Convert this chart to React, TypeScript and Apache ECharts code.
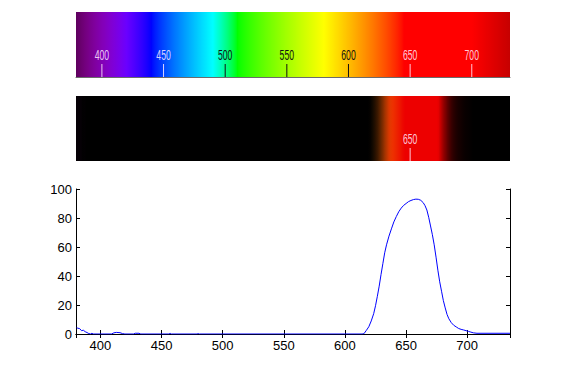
import React, { useEffect, useRef } from "react";
import * as echarts from "echarts";

// Emission spectrum (wavelength in nm, relative intensity %)
const wavelengths = [
  380.5, 381.5, 383, 384.5, 386, 387.5, 389, 390.5, 392, 393, 394, 409, 411, 413, 416, 418, 420,
  427, 428.5, 431.5, 433, 456, 457, 458, 479, 480, 481, 614, 615.5, 617.5, 619.5, 621.5, 623.5,
  625, 626.5, 628, 629.5, 631, 632.5, 634, 636, 638, 640, 642, 644, 646, 648, 650, 652, 654, 656,
  658, 660, 662, 664, 665.5, 667, 668.5, 670, 671.5, 673, 674.5, 676, 677.5, 679, 680.5, 682,
  683.5, 685, 687, 689, 691, 693, 695, 697, 699, 701, 703, 705, 708, 735,
];
const intensities = [
  4.3, 4.0, 3.7, 2.3, 2.6, 1.6, 1.0, 0.3, 0, 0.5, 0, 0, 0.8, 1.1, 0.9, 0.3, 0,
  0, 0.5, 0.5, 0, 0, 0.4, 0, 0, 0.3, 0, 0, 0.2, 2.5, 5, 9, 14,
  19.5, 26, 33, 41, 48.5, 56, 61.5, 67.5, 72.5, 77.3, 81, 84.3, 86.8, 88.7, 90, 91.3, 92.1, 92.7,
  93, 92.9, 92.2, 90.6, 88.5, 85.5, 80.5, 74.5, 68.5, 61.5, 53, 44, 36, 29.5, 23, 18,
  13.5, 10.5, 7.8, 6, 4.9, 3.8, 3.2, 2.8, 2.3, 1.8, 1.3, 0.8, 0.5, 0.5,
];
const spectrumTicks = [400, 450, 500, 550, 600, 650, 700];
const glowTicks = [650];

const BAND_MIN = 379;
const BAND_MAX = 731;
const PLOT_MIN = 380;
const PLOT_MAX = 735;

function spectral(w: number): [number, number, number] {
  let r = 0, g = 0, b = 0;
  if (w < 440) { r = (440 - w) / 60; b = 1; }
  else if (w < 490) { g = (w - 440) / 50; b = 1; }
  else if (w < 510) { g = 1; b = (510 - w) / 20; }
  else if (w < 580) { r = (w - 510) / 70; g = 1; }
  else if (w < 645) { r = 1; g = (645 - w) / 65; }
  else { r = 1; }
  let f = 1;
  if (w < 420) f = 0.3 + (0.7 * (w - 380)) / 40;
  else if (w > 700) f = 0.3 + (0.7 * (780 - w)) / 80;
  const gm = (v: number) => (v <= 0 ? 0 : Math.pow(v * f, 0.8));
  return [gm(r), gm(g), gm(b)];
}
const toCss = (c: [number, number, number], k = 1) =>
  `rgb(${Math.round(c[0] * 255 * k)},${Math.round(c[1] * 255 * k)},${Math.round(c[2] * 255 * k)})`;

const spectrumStops = (() => {
  const s: { offset: number; color: string }[] = [];
  for (let w = BAND_MIN; w <= BAND_MAX; w += 1) {
    s.push({ offset: (w - BAND_MIN) / (BAND_MAX - BAND_MIN), color: toCss(spectral(w)) });
  }
  return s;
})();

const glowStops = (() => {
  const s: { offset: number; color: string }[] = [];
  const bright = (v: number) => Math.pow(Math.max(0, Math.min(1, (v - 2) / 62)), 0.85) * 0.93;
  s.push({ offset: 0, color: toCss(spectral(BAND_MIN), bright(intensities[0])) });
  wavelengths.forEach((w, i) => {
    if (w > BAND_MIN && w < BAND_MAX) {
      s.push({ offset: (w - BAND_MIN) / (BAND_MAX - BAND_MIN), color: toCss(spectral(w), bright(intensities[i])) });
    }
  });
  s.push({ offset: 1, color: toCss(spectral(BAND_MAX), bright(0.5)) });
  return s;
})();

const bandFont = "14px 'Liberation Sans', Arial, sans-serif";
const axisFont = "'Liberation Sans', Arial, sans-serif";

function bandRect(stops: { offset: number; color: string }[]) {
  return (params: any, api: any) => {
    const p0 = api.coord([BAND_MIN, 1]);
    const p1 = api.coord([BAND_MAX, 0]);
    return {
      type: "rect",
      shape: { x: p0[0], y: p0[1], width: p1[0] - p0[0], height: p1[1] - p0[1] },
      style: { fill: new echarts.graphic.LinearGradient(0, 0, 1, 0, stops) },
    };
  };
}

function bandTicks(colorOf: (v: number) => string) {
  return (params: any, api: any) => {
    const v = api.value(0);
    const p = api.coord([v, 0]);
    const col = colorOf(v);
    return {
      type: "group",
      children: [
        { type: "line", shape: { x1: p[0], y1: p[1], x2: p[0], y2: p[1] - 13 }, style: { stroke: col, lineWidth: 1 } },
        {
          type: "text",
          x: p[0],
          y: p[1] - 22,
          scaleX: 0.62,
          style: { text: String(v), fill: col, font: bandFont, align: "center", verticalAlign: "middle" },
        },
      ],
    };
  };
}

const lightTick = "rgba(255,235,255,0.85)";
const darkTick = "#111";

export default function App() {
  const ref = useRef<HTMLDivElement>(null);
  useEffect(() => {
    if (!ref.current) return;
    const chart = echarts.init(ref.current, undefined, { renderer: "svg" });
    const mainAxisX = {
      type: "value",
      gridIndex: 2,
      min: PLOT_MIN,
      max: PLOT_MAX,
      splitNumber: 7,
      minInterval: 50,
      maxInterval: 50,
      axisLine: { show: true, lineStyle: { color: "#000", width: 1 } },
      axisTick: { show: true, inside: true, length: 4, lineStyle: { color: "#000" } },
      splitLine: { show: false },
    };
    const mainAxisY = {
      type: "value",
      gridIndex: 2,
      min: 0,
      max: 100,
      interval: 20,
      axisLine: { show: true, lineStyle: { color: "#000", width: 1 } },
      axisTick: { show: true, inside: true, length: 4, lineStyle: { color: "#000" } },
      splitLine: { show: false },
    };
    chart.setOption({
      animation: false,
      backgroundColor: "#fff",
      grid: [
        { left: 76, top: 12, width: 434, height: 65 },
        { left: 76, top: 96, width: 434, height: 65 },
        { left: 76, top: 189, width: 434, height: 145 },
      ],
      xAxis: [
        {
          type: "value", gridIndex: 0, min: BAND_MIN, max: BAND_MAX,
          axisLine: { show: true, lineStyle: { color: "#6b6b6b" } },
          axisTick: { show: false }, axisLabel: { show: false }, splitLine: { show: false },
        },
        { type: "value", gridIndex: 1, min: BAND_MIN, max: BAND_MAX, show: false },
        {
          ...mainAxisX,
          position: "bottom",
          axisLabel: {
            show: true, color: "#000", fontSize: 13, fontFamily: axisFont, margin: 5,
            showMinLabel: false, showMaxLabel: false,
            formatter: (v: number) => (v % 50 === 0 ? String(v) : ""),
          },
        },
        { ...mainAxisX, position: "top", axisLabel: { show: false } },
      ],
      yAxis: [
        { type: "value", gridIndex: 0, min: 0, max: 1, show: false },
        { type: "value", gridIndex: 1, min: 0, max: 1, show: false },
        {
          ...mainAxisY,
          position: "left",
          axisLabel: { show: true, color: "#000", fontSize: 13, fontFamily: axisFont, margin: 4 },
        },
        { ...mainAxisY, position: "right", axisLabel: { show: false } },
      ],
      series: [
        {
          type: "custom", xAxisIndex: 0, yAxisIndex: 0, z: 1,
          renderItem: bandRect(spectrumStops), data: [[BAND_MIN, 0]],
        },
        {
          type: "custom", xAxisIndex: 0, yAxisIndex: 0, z: 3,
          renderItem: bandTicks((v) => (v > 480 && v < 620 ? darkTick : lightTick)),
          data: spectrumTicks.map((v) => [v, 0]),
        },
        {
          type: "custom", xAxisIndex: 1, yAxisIndex: 1, z: 1,
          renderItem: bandRect(glowStops), data: [[BAND_MIN, 0]],
        },
        {
          type: "custom", xAxisIndex: 1, yAxisIndex: 1, z: 3,
          renderItem: bandTicks(() => lightTick),
          data: glowTicks.map((v) => [v, 0]),
        },
        {
          type: "line", xAxisIndex: 2, yAxisIndex: 2,
          data: wavelengths.map((w, i) => [w, intensities[i]]),
          showSymbol: false, symbol: "none",
          lineStyle: { color: "#0000ff", width: 1 },
          clip: true,
        },
      ],
    });
    return () => chart.dispose();
  }, []);
  return (
    <div
      ref={ref}
      style={{ position: "fixed", left: 0, top: 0, width: 567, height: 378, background: "#fff" }}
    />
  );
}
